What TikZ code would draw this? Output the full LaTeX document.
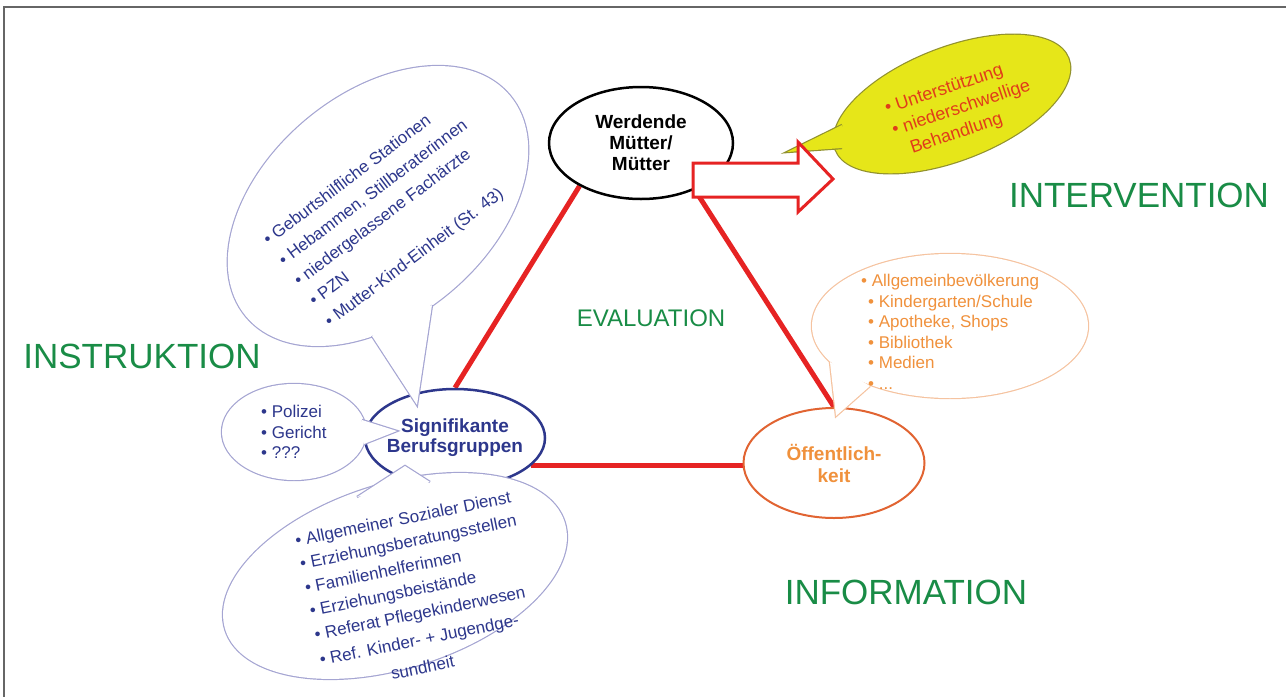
\documentclass[tikz,border=0pt]{standalone}
\usepackage{fontspec}
\setmainfont{Liberation Sans}
\usetikzlibrary{shapes.geometric,backgrounds}

\definecolor{headgreen}{RGB}{25,140,70}
\definecolor{navy}{RGB}{45,55,140}
\definecolor{lilac}{RGB}{165,165,210}
\definecolor{signalred}{RGB}{230,35,35}
\definecolor{amber}{RGB}{240,145,60}
\definecolor{rust}{RGB}{225,100,50}
\definecolor{peach}{RGB}{245,195,160}
\definecolor{lemon}{RGB}{230,230,25}
\definecolor{moss}{RGB}{145,145,45}
\definecolor{flame}{RGB}{225,60,25}

\tikzset{
  hub/.style={ellipse, fill=white, line width=2.5pt, inner sep=0pt, align=center,
    font=\bfseries\fontsize{19}{21}\selectfont},
  heading/.style={text=headgreen, inner sep=0pt, font=\fontsize{35}{40}\selectfont},
  bulletlist/.style={inner sep=0pt, align=left, anchor=north west,
    font=\fontsize{17}{20.6}\selectfont},
  bubble/.style={preaction={draw=#1, line width=2.4pt}},
  redline/.style={signalred, line width=5pt},
}

\begin{document}
\begin{tikzpicture}[x=1pt, y=-1pt]
  \useasboundingbox (0,0) rectangle (1286,697);
  \draw[black!60, line width=1.5pt] (1286,7) -- (4,7) -- (4,697);

  % the four fields
  \node[heading] (instr) at (142,356) {INSTRUKTION};
  \node[heading] (interv) at (1139,195) {INTERVENTION};
  \node[heading] (inform) at (906,592) {INFORMATION};
  \node[heading, font=\fontsize{24}{28}\selectfont] (eval) at (651,318) {EVALUATION};

  % the three groups of the triangle
  \node[hub, draw=black, minimum width=184pt, minimum height=112pt] (werd) at (641,143)
    {Werdende\\Mütter/\\Mütter};
  \node[hub, draw=navy, text=navy, inner xsep=-8pt, minimum width=180pt, minimum height=98pt,
    font=\bfseries\fontsize{19}{20}\selectfont] (sig) at (455,438) {Signifikante\\Berufsgruppen};
  \node[hub, draw=rust, text=amber, line width=2pt, minimum width=181pt, minimum height=110pt,
    font=\bfseries\fontsize{19}{22}\selectfont] (oef) at (834,463) {Öffentlich-\\keit};

  \begin{scope}[on background layer]
    \draw[redline] (werd.215) -- (sig.north);
    \draw[redline] (werd.319) -- (oef.north);
    \draw[redline] (sig.-20) -- (sig.-20 -| oef.west);
  \end{scope}

  % speech bubbles, outline first and fill on top
  \coordinate (tipA) at (417,405);
  \path[bubble=lilac, fill=white] (378,206) circle [x radius=172, y radius=112, rotate=40];
  \path[bubble=lilac, fill=white] (372,336) -- (tipA) -- (432,305);
  \node[bulletlist, text=navy, rotate=37, font=\fontsize{17}{25.5}\selectfont] (clinics) at (261,236)
    {• Geburtshilfliche Stationen\\• Hebammen, Stillberaterinnen\\• niedergelassene Fachärzte\\%
     • PZN\\• Mutter-Kind-Einheit (St. 43)};

  \coordinate (tipB) at (397,431);
  \path[bubble=lilac, fill=white] (294,432) circle [x radius=72, y radius=48];
  \path[bubble=lilac, fill=white] (362,420) -- (tipB) -- (364,444);
  \node[bulletlist, text=navy] (police) at (261,405) {• Polizei\\• Gericht\\• ???};

  \coordinate (tipC) at (405,466);
  \path[bubble=lilac, fill=white] (395,576) circle [x radius=178, y radius=92, rotate=17.6];
  \path[bubble=lilac, fill=white] (357,497) -- (tipC) -- (430,482);
  \node[bulletlist, text=navy, rotate=11.5, font=\fontsize{17}{24}\selectfont] (services) at (294,534)
    {• Allgemeiner Sozialer Dienst\\• Erziehungsberatungsstellen\\• Familienhelferinnen\\%
     • Erziehungsbeistände\\• Referat Pflegekinderwesen\\[2pt]• Ref. Kinder- + Jugendge-\\[4pt]%
     \hspace*{67pt}sundheit};

  \coordinate (tipD) at (836,416);
  \path[bubble=peach, fill=white] (950,326) circle [x radius=138, y radius=72];
  \path[bubble=peach, fill=white] (830,362) -- (tipD) -- (870,386);
  \node[bulletlist, text=amber] (public) at (861,274)
    {• Allgemeinbevölkerung\\\hspace*{7pt}• Kindergarten/Schule\\\hspace*{7pt}• Apotheke, Shops\\%
     \hspace*{7pt}• Bibliothek\\\hspace*{7pt}• Medien\\\hspace*{7pt}• ...};

  \coordinate (tipE) at (787,152);
  \path[bubble=moss, fill=lemon] (952,104) circle [x radius=125, y radius=56, rotate=21.4];
  \path[bubble=moss, fill=lemon] (842,125) -- (tipE) -- (842,148);
  \node[bulletlist, text=flame, rotate=18.5, font=\fontsize{18}{23}\selectfont] (help) at (883,102)
    {• Unterstützung\\• niederschwellige\\\phantom{• }Behandlung};

  % block arrow towards the intervention
  \draw[signalred, line width=3pt, fill=white] (693,163) -- (798,163) -- (798,142) -- (833,179)
    -- (798,212) -- (798,197) -- (693,197) -- cycle;
\end{tikzpicture}
\end{document}
